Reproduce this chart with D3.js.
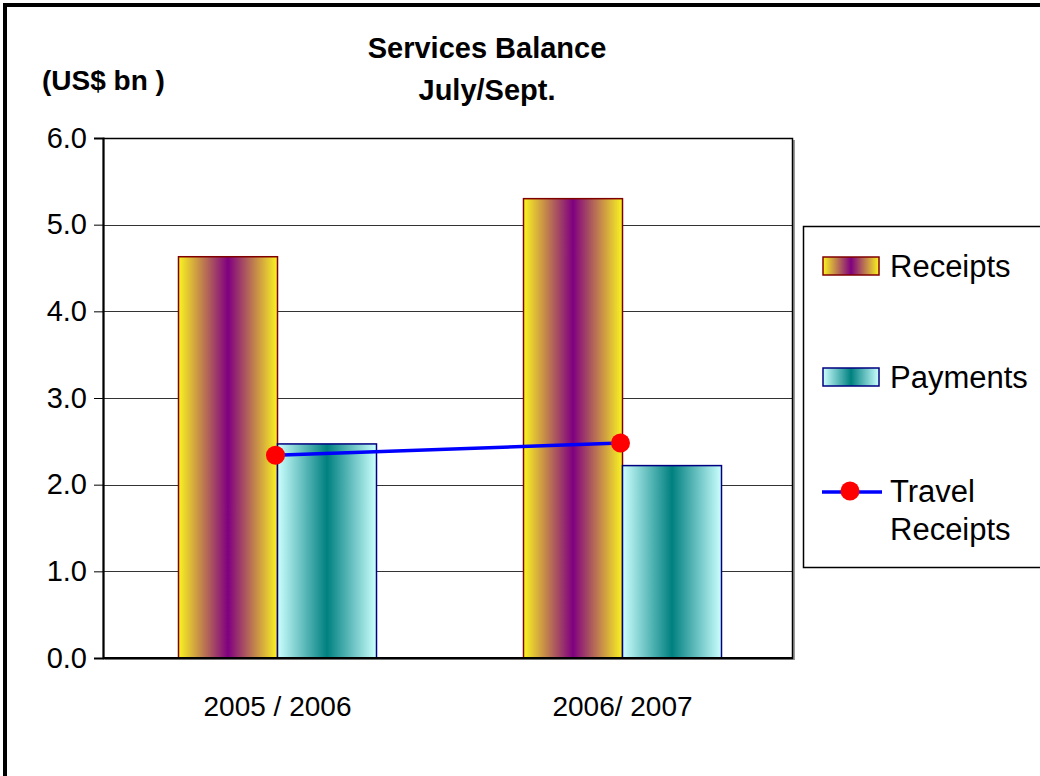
<!DOCTYPE html>
<html>
<head>
<meta charset="utf-8">
<script src="https://cdn.jsdelivr.net/npm/d3@7"></script>
<style>
  html, body { margin: 0; padding: 0; background: #fff; }
  svg { display: block; font-family: "Liberation Sans", Arial, sans-serif; }
</style>
</head>
<body>
<svg id="chart" width="1040" height="776"></svg>
<script>
// Services balance, July/Sept., US$ bn
const categories = ["2005 / 2006", "2006/ 2007"];
const receipts = [4.63, 5.30];
const payments = [2.47, 2.22];
const travelReceipts = [2.34, 2.48];
const yTicks = [0, 1, 2, 3, 4, 5, 6];

const svg = d3.select("#chart");
const W = 1040, H = 776;
const FONT = "'Liberation Sans', Arial, sans-serif";

// outer frame
svg.append("rect").attr("x", 5).attr("y", 5).attr("width", W + 10).attr("height", H + 10)
  .attr("fill", "#fff").attr("stroke", "#000").attr("stroke-width", 4);

const plot = { left: 103, right: 793, top: 138, bottom: 658 };

const x = d3.scaleBand().domain(categories).range([plot.left, plot.right]).paddingInner(0).paddingOuter(0);
const y = d3.scaleLinear().domain([0, 6]).range([plot.bottom, plot.top]);
const groupWidth = 198;
const groupShift = 2;
const xs = d3.scaleBand().domain(["Receipts", "Payments"]).range([0, groupWidth]).padding(0);

// horizontal gradients for the bar fills
const defs = svg.append("defs");
function grad(id, edge, mid) {
  const g = defs.append("linearGradient").attr("id", id)
    .attr("x1", "0%").attr("x2", "100%").attr("y1", "0%").attr("y2", "0%");
  g.append("stop").attr("offset", "0%").attr("stop-color", edge);
  g.append("stop").attr("offset", "50%").attr("stop-color", mid);
  g.append("stop").attr("offset", "100%").attr("stop-color", edge);
}
grad("gRec", "#FAF520", "#800080");
grad("gPay", "#CCFFFF", "#008080");

// plot area with soft shadow
svg.append("rect").attr("x", plot.left + 2).attr("y", plot.top + 2)
  .attr("width", plot.right - plot.left).attr("height", plot.bottom - plot.top)
  .attr("fill", "#9a9a9a");
svg.append("rect").attr("x", plot.left).attr("y", plot.top)
  .attr("width", plot.right - plot.left).attr("height", plot.bottom - plot.top)
  .attr("fill", "#fff");

// gridlines
svg.append("g").selectAll("line").data(yTicks.filter(d => d > 0 && d < 6)).join("line")
  .attr("x1", plot.left).attr("x2", plot.right)
  .attr("y1", d => Math.round(y(d)) + 0.5).attr("y2", d => Math.round(y(d)) + 0.5)
  .attr("stroke", "#333").attr("stroke-width", 1);

// bars
const groups = svg.append("g").selectAll("g").data(categories).join("g")
  .attr("transform", d => `translate(${x(d) + x.bandwidth() / 2 - groupWidth / 2 + groupShift},0)`);

groups.append("rect")
  .attr("x", xs("Receipts")).attr("width", xs.bandwidth())
  .attr("y", (d, i) => y(receipts[i])).attr("height", (d, i) => y(0) - y(receipts[i]))
  .attr("fill", "url(#gRec)").attr("stroke", "#800000").attr("stroke-width", 1.5);

groups.append("rect")
  .attr("x", xs("Payments")).attr("width", xs.bandwidth())
  .attr("y", (d, i) => y(payments[i])).attr("height", (d, i) => y(0) - y(payments[i]))
  .attr("fill", "url(#gPay)").attr("stroke", "#000080").attr("stroke-width", 1.5);

// plot border
svg.append("rect").attr("x", plot.left + 0.5).attr("y", plot.top + 0.5)
  .attr("width", plot.right - plot.left - 1).attr("height", plot.bottom - plot.top)
  .attr("fill", "none").attr("stroke", "#000").attr("stroke-width", 1.5);

// y axis
const yAxis = d3.axisLeft(y).tickValues(yTicks).tickFormat(d3.format(".1f")).tickSize(9).tickPadding(7);
const ya = svg.append("g").attr("transform", `translate(${plot.left},0)`).call(yAxis);
ya.select(".domain").attr("stroke", "#000").attr("stroke-width", 2);
ya.selectAll(".tick line").attr("stroke", "#000");
ya.selectAll(".tick text").attr("font-size", 29).attr("fill", "#000").attr("font-family", FONT);

// x axis line
svg.append("line").attr("x1", plot.left).attr("x2", plot.right)
  .attr("y1", plot.bottom).attr("y2", plot.bottom).attr("stroke", "#000").attr("stroke-width", 2);

// category labels
svg.append("g").selectAll("text").data(categories).join("text")
  .attr("x", d => x(d) + x.bandwidth() / 2 + groupShift).attr("y", 716)
  .attr("text-anchor", "middle").attr("font-size", 28).attr("fill", "#000").text(d => d);

// travel receipts line
const line = d3.line().x((d, i) => x(categories[i]) + x.bandwidth() / 2).y(d => y(d));
svg.append("path").datum(travelReceipts).attr("d", line)
  .attr("fill", "none").attr("stroke", "#0000FF").attr("stroke-width", 3.5);
svg.append("g").selectAll("circle").data(travelReceipts).join("circle")
  .attr("cx", (d, i) => x(categories[i]) + x.bandwidth() / 2).attr("cy", d => y(d))
  .attr("r", 9.5).attr("fill", "#FF0000");

// titles
svg.append("text").attr("x", 487).attr("y", 58).attr("text-anchor", "middle")
  .attr("font-size", 29).attr("font-weight", "bold").text("Services Balance");
svg.append("text").attr("x", 487).attr("y", 100).attr("text-anchor", "middle")
  .attr("font-size", 29).attr("font-weight", "bold").text("July/Sept.");
svg.append("text").attr("x", 42).attr("y", 90)
  .attr("font-size", 28).attr("font-weight", "bold").text("(US$ bn )");

// legend
const lg = svg.append("g");
lg.append("rect").attr("x", 803.5).attr("y", 226.5).attr("width", 260).attr("height", 341)
  .attr("fill", "#fff").attr("stroke", "#000").attr("stroke-width", 1.5);
lg.append("rect").attr("x", 823).attr("y", 257).attr("width", 56).attr("height", 18)
  .attr("fill", "url(#gRec)").attr("stroke", "#800000").attr("stroke-width", 1.5);
lg.append("text").attr("x", 890).attr("y", 277).attr("font-size", 31).text("Receipts");
lg.append("rect").attr("x", 823).attr("y", 368).attr("width", 56).attr("height", 18)
  .attr("fill", "url(#gPay)").attr("stroke", "#000080").attr("stroke-width", 1.5);
lg.append("text").attr("x", 890).attr("y", 388).attr("font-size", 31).text("Payments");
lg.append("line").attr("x1", 822).attr("x2", 882).attr("y1", 492).attr("y2", 492)
  .attr("stroke", "#0000FF").attr("stroke-width", 3.5);
lg.append("circle").attr("cx", 850).attr("cy", 491).attr("r", 9.5).attr("fill", "#FF0000");
lg.append("text").attr("x", 890).attr("y", 502).attr("font-size", 31).text("Travel");
lg.append("text").attr("x", 890).attr("y", 540).attr("font-size", 31).text("Receipts");
</script>
</body>
</html>
